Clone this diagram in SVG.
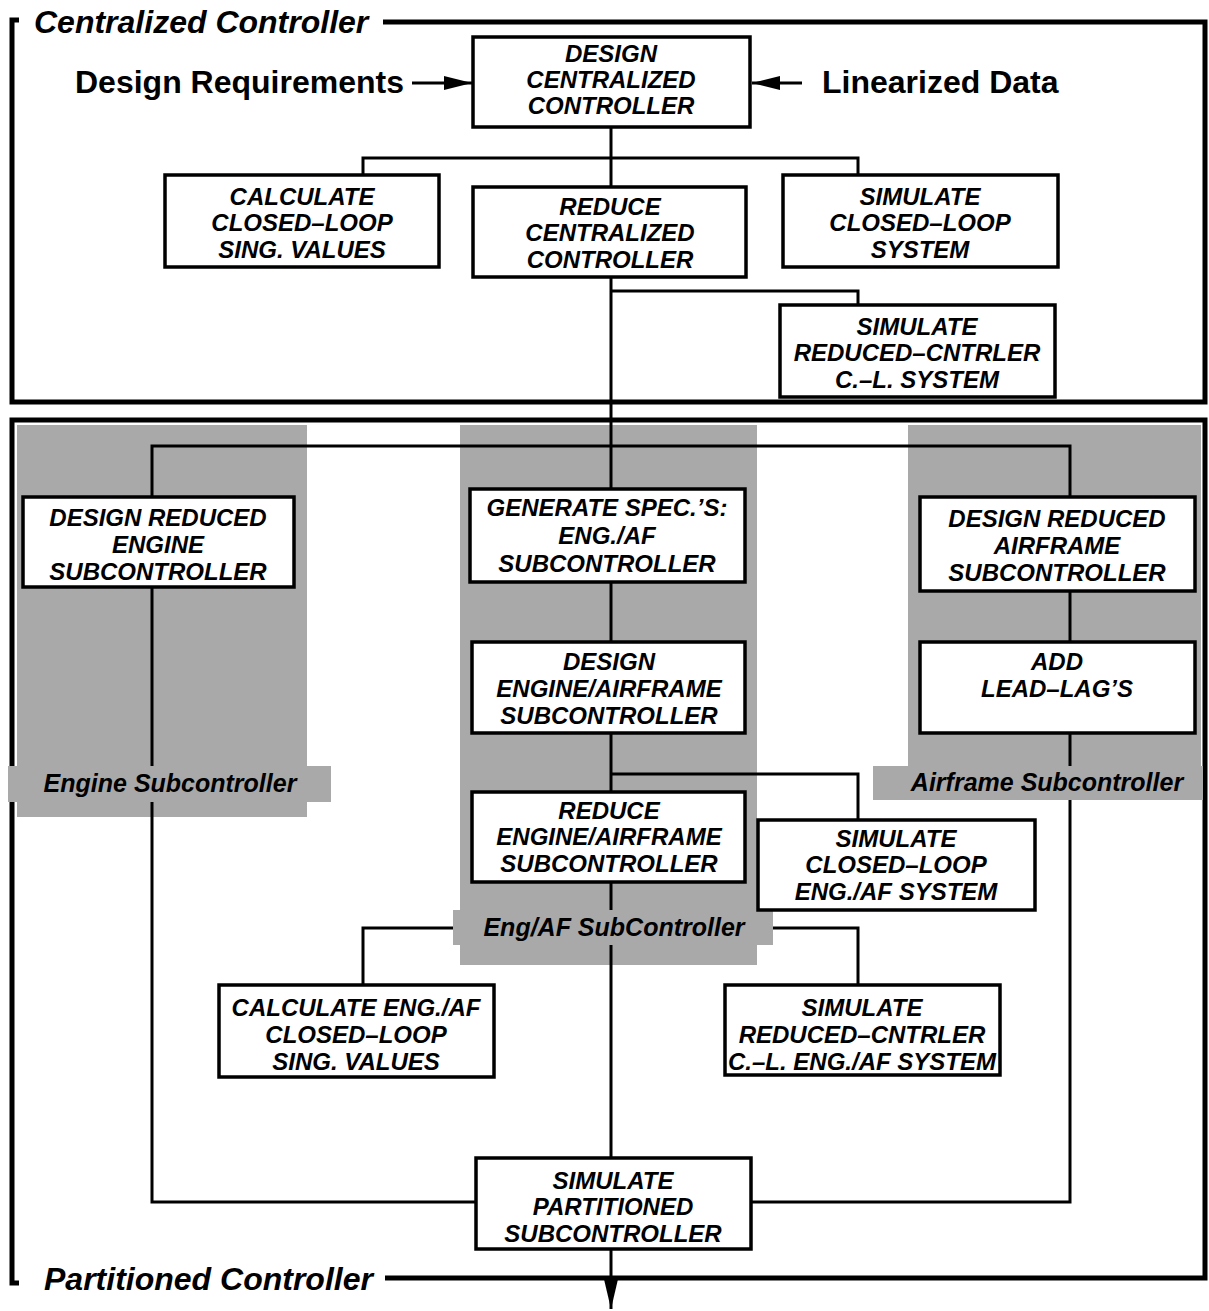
<svg xmlns="http://www.w3.org/2000/svg" width="1209" height="1311" viewBox="0 0 1209 1311">
<style>
.bg{fill:#fff}
.gray{fill:#a9a9a9}
.frame{fill:none;stroke:#000;stroke-width:5}
.conn{fill:none;stroke:#000;stroke-width:3}
.box{fill:#fff;stroke:#000;stroke-width:3.5}
.t{font-family:"Liberation Sans",Arial,sans-serif;font-weight:bold;font-style:italic;font-size:24px;text-anchor:middle;fill:#000}
.big{font-family:"Liberation Sans",Arial,sans-serif;font-weight:bold;font-size:32px;fill:#000}
.flabel{font-family:"Liberation Sans",Arial,sans-serif;font-weight:bold;font-style:italic;font-size:32px;fill:#000}
.glabel{font-family:"Liberation Sans",Arial,sans-serif;font-weight:bold;font-style:italic;font-size:25px;text-anchor:middle;fill:#000}
</style>
<defs>
<marker id="ah" viewBox="0 0 28 14" refX="28" refY="7" markerUnits="userSpaceOnUse" markerWidth="28" markerHeight="14" orient="auto">
<path d="M0,0 L28,7 L0,14 z" fill="#000"/>
</marker>
<marker id="ahd" viewBox="0 0 32 15" refX="32" refY="7.5" markerUnits="userSpaceOnUse" markerWidth="32" markerHeight="15" orient="auto">
<path d="M0,0 L32,7.5 L0,15 z" fill="#000"/>
</marker>
</defs>
<rect class="bg" x="0" y="0" width="1209" height="1311"/>

<g id="shading">
<rect class="gray" x="17" y="425" width="290" height="392"/>
<rect class="gray" x="460" y="425" width="297" height="540"/>
<rect class="gray" x="908" y="425" width="293" height="375"/>
</g>

<g id="frames">
<path class="frame" d="M19,20 L12,20 L12,402 L1205,402 L1205,22 L383,22"/>
<path class="frame" d="M385,1278 L1205,1278 L1205,420 L12,420 L12,1283 L19,1283"/>
<text class="flabel" x="34" y="33">Centralized Controller</text>
<text class="flabel" x="44" y="1290">Partitioned Controller</text>
</g>

<g id="connectors">
<line class="conn" x1="412" y1="83" x2="472" y2="83" marker-end="url(#ah)"/>
<line class="conn" x1="802" y1="83" x2="752" y2="83" marker-end="url(#ah)"/>
<path class="conn" d="M611,127 L611,187"/>
<path class="conn" d="M363,175 L363,158 L858,158 L858,175"/>
<path class="conn" d="M611,277 L611,489"/>
<path class="conn" d="M611,291 L858,291 L858,305"/>
<path class="conn" d="M152,497 L152,446 L1070,446 L1070,497"/>
<path class="conn" d="M611,582 L611,642"/>
<path class="conn" d="M611,733 L611,792"/>
<path class="conn" d="M611,774 L858,774 L858,820"/>
<path class="conn" d="M611,882 L611,1158"/>
<path class="conn" d="M363,985 L363,928 L858,928 L858,985"/>
<path class="conn" d="M152,587 L152,1202 L476,1202"/>
<path class="conn" d="M1070,591 L1070,642"/>
<path class="conn" d="M1070,733 L1070,1202 L751,1202"/>
<line class="conn" x1="611" y1="1249" x2="611" y2="1309" marker-end="url(#ahd)"/>
</g>

<g id="group-labels">
<rect class="gray" x="8" y="766" width="323" height="36"/>
<text class="glabel" x="170" y="792">Engine Subcontroller</text>
<rect class="gray" x="453" y="910" width="320" height="35"/>
<text class="glabel" x="614" y="936">Eng/AF SubController</text>
<rect class="gray" x="873" y="766" width="330" height="34"/>
<text class="glabel" x="1047" y="791">Airframe Subcontroller</text>
</g>

<text class="big" x="75" y="93">Design Requirements</text>
<text class="big" x="822" y="93">Linearized Data</text>

<g id="design-centralized">
<rect class="box" x="473" y="37" width="277" height="90"/>
<text class="t" x="611" y="62">DESIGN</text>
<text class="t" x="611" y="88">CENTRALIZED</text>
<text class="t" x="611" y="114">CONTROLLER</text>
</g>
<g id="calc-cl-sv">
<rect class="box" x="165" y="175" width="274" height="92"/>
<text class="t" x="302" y="205">CALCULATE</text>
<text class="t" x="302" y="231">CLOSED–LOOP</text>
<text class="t" x="302" y="258">SING. VALUES</text>
</g>
<g id="reduce-centralized">
<rect class="box" x="473" y="187" width="273" height="90"/>
<text class="t" x="610" y="215">REDUCE</text>
<text class="t" x="610" y="241">CENTRALIZED</text>
<text class="t" x="610" y="268">CONTROLLER</text>
</g>
<g id="simulate-cl">
<rect class="box" x="783" y="175" width="275" height="92"/>
<text class="t" x="920" y="205">SIMULATE</text>
<text class="t" x="920" y="231">CLOSED–LOOP</text>
<text class="t" x="920" y="258">SYSTEM</text>
</g>
<g id="simulate-reduced">
<rect class="box" x="780" y="305" width="275" height="92"/>
<text class="t" x="917" y="335">SIMULATE</text>
<text class="t" x="917" y="361">REDUCED–CNTRLER</text>
<text class="t" x="917" y="388">C.–L. SYSTEM</text>
</g>
<g id="design-engine">
<rect class="box" x="23" y="497" width="271" height="90"/>
<text class="t" x="158" y="526">DESIGN REDUCED</text>
<text class="t" x="158" y="553">ENGINE</text>
<text class="t" x="158" y="580">SUBCONTROLLER</text>
</g>
<g id="generate-specs">
<rect class="box" x="470" y="489" width="275" height="93"/>
<text class="t" x="607" y="516">GENERATE SPEC.’S:</text>
<text class="t" x="607" y="544">ENG./AF</text>
<text class="t" x="607" y="572">SUBCONTROLLER</text>
</g>
<g id="design-airframe">
<rect class="box" x="920" y="497" width="275" height="94"/>
<text class="t" x="1057" y="527">DESIGN REDUCED</text>
<text class="t" x="1057" y="554">AIRFRAME</text>
<text class="t" x="1057" y="581">SUBCONTROLLER</text>
</g>
<g id="design-eng-af">
<rect class="box" x="472" y="642" width="273" height="91"/>
<text class="t" x="609" y="670">DESIGN</text>
<text class="t" x="609" y="697">ENGINE/AIRFRAME</text>
<text class="t" x="609" y="724">SUBCONTROLLER</text>
</g>
<g id="add-lead-lag">
<rect class="box" x="920" y="642" width="275" height="91"/>
<text class="t" x="1057" y="670">ADD</text>
<text class="t" x="1057" y="697">LEAD–LAG’S</text>
</g>
<g id="reduce-eng-af">
<rect class="box" x="472" y="792" width="273" height="90"/>
<text class="t" x="609" y="819">REDUCE</text>
<text class="t" x="609" y="845">ENGINE/AIRFRAME</text>
<text class="t" x="609" y="872">SUBCONTROLLER</text>
</g>
<g id="simulate-cl-eng-af">
<rect class="box" x="758" y="820" width="277" height="90"/>
<text class="t" x="896" y="847">SIMULATE</text>
<text class="t" x="896" y="873">CLOSED–LOOP</text>
<text class="t" x="896" y="900">ENG./AF SYSTEM</text>
</g>
<g id="calc-eng-af-sv">
<rect class="box" x="219" y="985" width="275" height="92"/>
<text class="t" x="356" y="1016">CALCULATE ENG./AF</text>
<text class="t" x="356" y="1043">CLOSED–LOOP</text>
<text class="t" x="356" y="1070">SING. VALUES</text>
</g>
<g id="simulate-reduced-eng-af">
<rect class="box" x="725" y="985" width="275" height="90"/>
<text class="t" x="862" y="1016">SIMULATE</text>
<text class="t" x="862" y="1043">REDUCED–CNTRLER</text>
<text class="t" x="862" y="1070">C.–L. ENG./AF SYSTEM</text>
</g>
<g id="simulate-partitioned">
<rect class="box" x="476" y="1158" width="275" height="91"/>
<text class="t" x="613" y="1189">SIMULATE</text>
<text class="t" x="613" y="1215">PARTITIONED</text>
<text class="t" x="613" y="1242">SUBCONTROLLER</text>
</g>
</svg>
